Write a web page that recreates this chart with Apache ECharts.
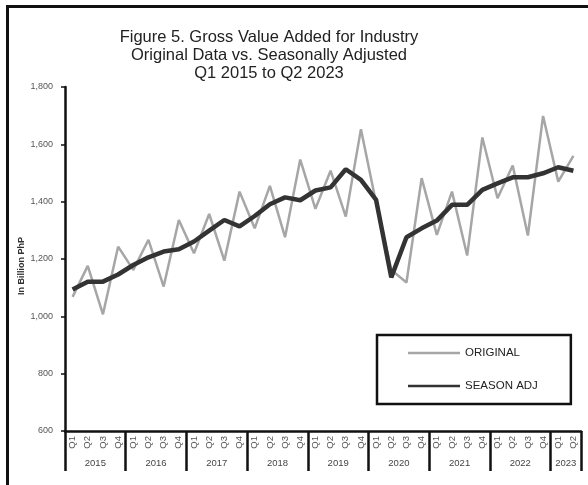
<!DOCTYPE html>
<html>
<head>
<meta charset="utf-8">
<script src="https://cdn.jsdelivr.net/npm/echarts@6/dist/echarts.min.js"></script>
<style>
  body { margin: 0; background: #fff; }
  #chart { width: 588px; height: 485px; }
  #frame {
    position: absolute; left: 6px; top: 5px; width: 620px; height: 520px;
    border-left: 3px solid #111; border-top: 3px solid #111; pointer-events: none;
  }
</style>
</head>
<body>
<div id="chart"></div>
<div id="frame"></div>
<script>
// 季度 / 年份
const quarters = [
  'Q1', 'Q2', 'Q3', 'Q4', 'Q1', 'Q2', 'Q3', 'Q4', 'Q1', 'Q2', 'Q3', 'Q4',
  'Q1', 'Q2', 'Q3', 'Q4', 'Q1', 'Q2', 'Q3', 'Q4', 'Q1', 'Q2', 'Q3', 'Q4',
  'Q1', 'Q2', 'Q3', 'Q4', 'Q1', 'Q2', 'Q3', 'Q4', 'Q1', 'Q2'
]
const years = [
  '2015', '2015', '2015', '2015', '2016', '2016', '2016', '2016',
  '2017', '2017', '2017', '2017', '2018', '2018', '2018', '2018',
  '2019', '2019', '2019', '2019', '2020', '2020', '2020', '2020',
  '2021', '2021', '2021', '2021', '2022', '2022', '2022', '2022',
  '2023', '2023'
]

// 原始数据
const original = [
  1068, 1176, 1007, 1243, 1162, 1267, 1104, 1336,
  1220, 1357, 1194, 1435, 1307, 1455, 1276, 1547,
  1375, 1508, 1348, 1653, 1395, 1162, 1118, 1482,
  1284, 1435, 1212, 1624, 1412, 1526, 1282, 1699,
  1470, 1560
]

// 季节调整
const seasonAdj = [
  1094, 1121, 1121, 1146, 1179, 1206, 1226, 1234,
  1261, 1299, 1336, 1314, 1350, 1391, 1415, 1405,
  1439, 1450, 1513, 1476, 1406, 1136, 1276, 1307,
  1334, 1389, 1389, 1441, 1464, 1485, 1485, 1499,
  1520, 1508
]

const font = '"Liberation Sans", Arial, sans-serif'
const chart = echarts.init(document.getElementById('chart'))

const option = {
  animation: false,
  textStyle: { fontFamily: font },
  title: {
    text: 'Figure 5. Gross Value Added for Industry\nOriginal Data vs. Seasonally Adjusted\nQ1 2015 to Q2 2023',
    left: 264,
    top: 23,
    textAlign: 'center',
    textStyle: {
      fontFamily: font,
      fontSize: 16.5,
      fontWeight: 'normal',
      color: '#222',
      lineHeight: 18
    }
  },
  legend: {
    data: ['ORIGINAL', 'SEASON ADJ'],
    orient: 'vertical',
    left: 377,
    top: 335,
    icon: 'rect',
    padding: [12, 33, 12, 31],
    itemWidth: 52,
    itemHeight: 2.5,
    itemGap: 21,
    borderColor: '#111',
    borderWidth: 2.5,
    textStyle: { fontFamily: font, fontSize: 11.5, color: '#222' }
  },
  grid: {
    left: 65,
    right: 7,
    top: 87,
    bottom: 54,
    containLabel: false
  },
  xAxis: [
    {
      type: 'category',
      data: quarters,
      boundaryGap: true,
      axisLine: { lineStyle: { color: '#111', width: 2.5 } },
      axisTick: { show: false },
      axisLabel: {
        interval: 0,
        rotate: 90,
        margin: 5,
        fontSize: 9.5,
        color: '#555'
      }
    },
    {
      type: 'category',
      data: years,
      position: 'bottom',
      boundaryGap: true,
      axisLine: { show: false },
      axisTick: {
        show: true,
        interval: (idx) => idx % 4 === 0,
        length: 40,
        lineStyle: { color: '#111', width: 2.5 }
      },
      axisLabel: {
        interval: (idx) => idx % 4 === 1 || idx === 32,
        margin: 27,
        fontSize: 9.5,
        color: '#444',
        padding: [0, 0, 0, 15.2]
      }
    }
  ],
  yAxis: {
    type: 'value',
    min: 600,
    max: 1800,
    interval: 200,
    name: 'In Billion PhP',
    nameLocation: 'middle',
    nameRotate: 90,
    nameGap: 39,
    nameMoveOverlap: false,
    nameTextStyle: { fontSize: 9, fontWeight: 'bold', color: '#333', padding: [0, 14, 0, 0] },
    splitLine: { show: false },
    axisLine: { show: true, lineStyle: { color: '#111', width: 2.5 } },
    axisTick: { show: true, length: 4, lineStyle: { color: '#111', width: 1.5 } },
    axisLabel: {
      margin: 12,
      fontSize: 9,
      color: '#555',
      formatter: (v) => v.toLocaleString('en-US')
    }
  },
  series: [
    {
      name: 'ORIGINAL',
      type: 'line',
      data: original,
      symbol: 'none',
      lineStyle: { color: '#a6a6a6', width: 2.5 },
      itemStyle: { color: '#a6a6a6' },
      z: 2
    },
    {
      name: 'SEASON ADJ',
      type: 'line',
      data: seasonAdj,
      symbol: 'none',
      lineStyle: { color: '#333333', width: 4.5 },
      itemStyle: { color: '#333333' },
      z: 3
    }
  ]
}

chart.setOption(option)
</script>
</body>
</html>
